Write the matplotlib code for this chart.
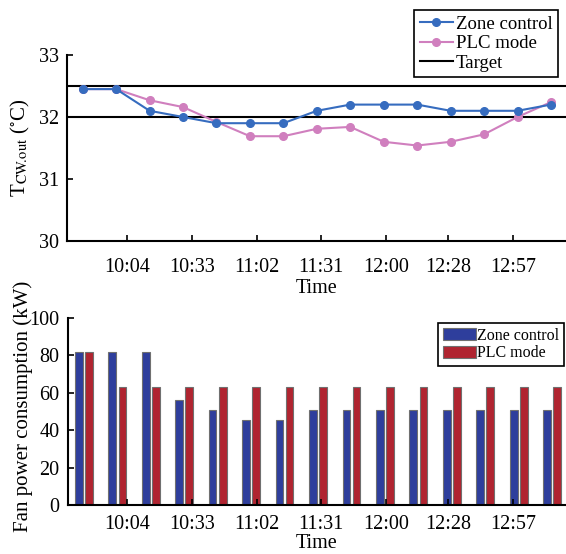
import matplotlib

matplotlib.use("Agg")
import matplotlib.pyplot as plt  # noqa: E402
import numpy as np  # noqa: E402

plt.rcParams["font.family"] = ["Liberation Serif", "DejaVu Serif"]
plt.rcParams["mathtext.fontset"] = "stix"

# outlet cooling water temperature, one sample every 15 min from 9:44
zone_temp = [32.45, 32.45, 32.1, 32.0, 31.9, 31.9, 31.9, 32.1, 32.2, 32.2, 32.2, 32.1, 32.1, 32.1, 32.2]
plc_temp = [32.45, 32.45, 32.27, 32.16, 31.92, 31.69, 31.69, 31.81, 31.84, 31.6, 31.54, 31.6, 31.72, 32.0, 32.24]
target_band = [32.0, 32.5]

# fan power (kW)
zone_power = [82, 82, 82, 56, 51, 45.5, 45.5, 51, 51, 51, 51, 51, 51, 51, 51]
plc_power = [82, 63, 63, 63, 63, 63, 63, 63, 63, 63, 63, 63, 63, 63, 63]

start_time = "9:44"
step_min = 15
tick_labels = ["10:04", "10:33", "11:02", "11:31", "12:00", "12:28", "12:57"]

BLUE_LINE = "#366cbf"
PINK_LINE = "#d07fbe"
BLUE_BAR = "#2e3e9c"
RED_BAR = "#b02430"


def _minutes(label: str) -> int:
    h, m = label.split(":")
    return int(h) * 60 + int(m)


def _style_axis(ax, xpad, fs=14.5):
    ax.spines["top"].set_visible(False)
    ax.spines["right"].set_visible(False)
    for s in ("left", "bottom"):
        ax.spines[s].set_linewidth(1.5)
    ax.tick_params(direction="in", length=4, width=1.2, labelsize=fs, pad=6)
    ax.tick_params(axis="x", pad=xpad)


x = np.arange(len(zone_temp))
tick_pos = [(_minutes(t) - _minutes(start_time)) / step_min for t in tick_labels]

fig = plt.figure(figsize=(5.66, 5.54), dpi=100)
W, H = 566, 554

# --- top: temperature ---
ax1 = fig.add_axes([67 / W, 1 - 241 / H, (W - 67) / W, (241 - 55) / H])
ax1.plot(x, zone_temp, "-o", color=BLUE_LINE, lw=1.5, ms=5.5, label="Zone control", zorder=3)
ax1.plot(x, plc_temp, "-o", color=PINK_LINE, lw=1.5, ms=5.5, label="PLC mode", zorder=2)
for i, y in enumerate(target_band):
    ax1.axhline(y, color="black", lw=1.5, label="Target" if i == 0 else None, zorder=1)
ax1.set_xlim(-0.47, 14.45)
ax1.set_ylim(30, 33)
ax1.set_yticks([30, 31, 32, 33])
ax1.set_xticks(tick_pos)
ax1.set_xticklabels(tick_labels)
_style_axis(ax1, xpad=12)
ax1.set_xlabel("Time", fontsize=14.5, labelpad=2)
ax1.set_ylabel(r"T$_{\mathrm{CW}\!.\!\mathrm{out}}$ ($^{\circ}$C)", fontsize=15)
ax1.legend(loc="upper right", bbox_to_anchor=(558 / W, 1 - 10 / H), bbox_transform=fig.transFigure,
           fontsize=13.5, frameon=True, fancybox=False, edgecolor="black", framealpha=1,
           handlelength=1.75, handletextpad=0.15, labelspacing=0.12, borderpad=0.3,
           borderaxespad=0).get_frame().set_linewidth(1.2)

# --- bottom: fan power ---
ax2 = fig.add_axes([68 / W, 1 - 505 / H, (W - 68) / W, (505 - 318) / H])
bw = 0.23
ax2.bar(x - 0.115, zone_power, width=bw, color=BLUE_BAR, edgecolor="#707070", lw=0.8, label="Zone control")
ax2.bar(x + 0.185, plc_power, width=bw, color=RED_BAR, edgecolor="#707070", lw=0.8, label="PLC mode")
ax2.set_xlim(-0.44, 14.45)
ax2.set_ylim(0, 100)
ax2.set_yticks([0, 20, 40, 60, 80, 100])
ax2.set_xticks(tick_pos)
ax2.set_xticklabels(tick_labels)
_style_axis(ax2, xpad=7)
ax2.set_xlabel("Time", fontsize=14.5, labelpad=0)
ax2.set_ylabel("Fan power consumption (kW)", fontsize=15)
ax2.legend(loc="upper right", bbox_to_anchor=(564 / W, 1 - 323 / H), bbox_transform=fig.transFigure,
           fontsize=11.5, frameon=True, fancybox=False, edgecolor="black", framealpha=1,
           handlelength=2.1, handleheight=0.8, handletextpad=0.05, labelspacing=0.1,
           borderpad=0.3, borderaxespad=0).get_frame().set_linewidth(1.2)

ax1.yaxis.set_label_coords(-0.07, 0.5)
ax2.yaxis.set_label_coords(-0.07, 0.53)

fig.savefig("out.png", dpi=100)
